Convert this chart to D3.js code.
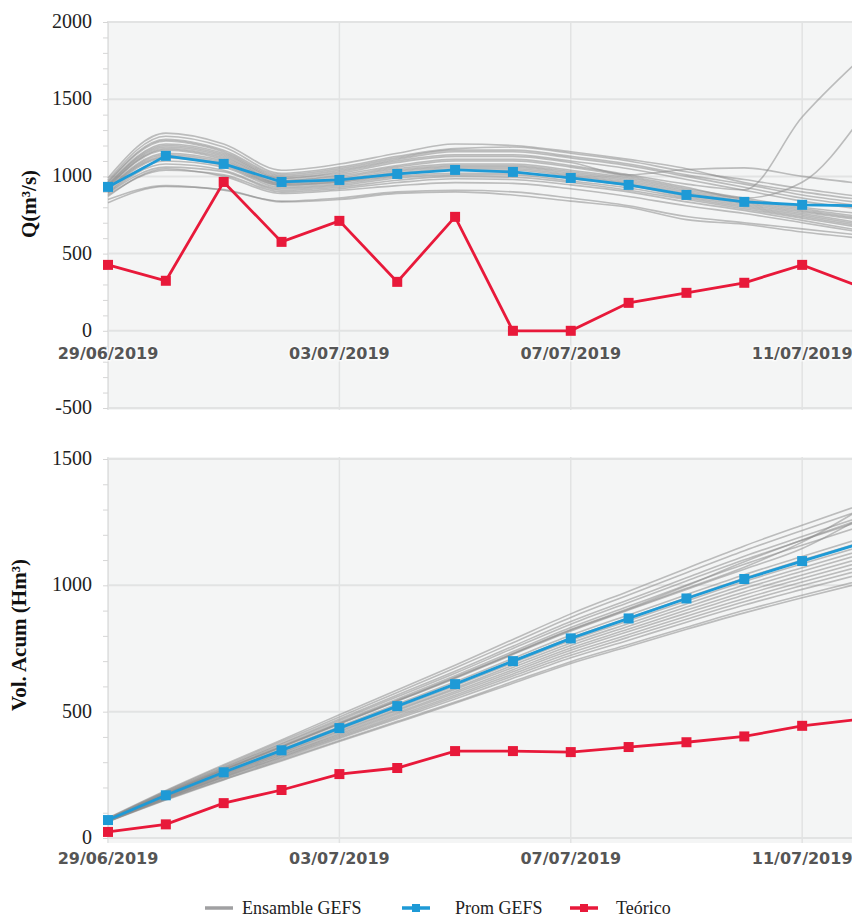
<!DOCTYPE html>
<html lang="en">
<head>
  <meta charset="UTF-8">
  <title>Caudal y volumen acumulado</title>
  <style>
    body { margin: 0; background: #fff; }
  </style>
</head>
<body>
  <script src="https://d3js.org/d3.v7.min.js"></script>
  <svg id="chart" width="852" height="918"></svg>
  <script>
    // daily dates, 29/06/2019 .. 12/07/2019
    const days = ["29/06/2019", "30/06/2019", "01/07/2019", "02/07/2019", "03/07/2019", "04/07/2019", "05/07/2019",
      "06/07/2019", "07/07/2019", "08/07/2019", "09/07/2019", "10/07/2019", "11/07/2019", "12/07/2019"];
    const dateTicks = ["29/06/2019", "03/07/2019", "07/07/2019", "11/07/2019"];

    // caudal Q (m3/s)
    const qTeorico = [427, 324, 964, 576, 712, 317, 738, 0, 0, 181, 246, 311, 427, 285];
    const qProm = [932, 1133, 1081, 964, 977, 1016, 1042, 1029, 990, 945, 880, 835, 816, 810];
    const qEnsemble = [
      [990, 1280, 1210, 1040, 1080, 1150, 1210, 1200, 1160, 1110, 1050, 960, 900, 850],
      [975, 1260, 1190, 1020, 1060, 1130, 1180, 1190, 1150, 1100, 1030, 980, 920, 870],
      [965, 1240, 1170, 1010, 1050, 1120, 1170, 1170, 1130, 1080, 1010, 950, 880, 830],
      [960, 1230, 1160, 1000, 1040, 1110, 1160, 1160, 1120, 1070, 1000, 930, 860, 810],
      [950, 1210, 1150, 990, 1030, 1100, 1140, 1140, 1100, 1050, 980, 910, 840, 790],
      [945, 1200, 1140, 985, 1020, 1090, 1130, 1130, 1090, 1010, 1045, 1055, 1000, 955],
      [940, 1190, 1130, 975, 1010, 1070, 1110, 1110, 1070, 1010, 950, 913, 1385, 1760],
      [930, 1180, 1120, 970, 1000, 1060, 1100, 1100, 1060, 1000, 930, 860, 962, 1370],
      [935, 1170, 1110, 960, 990, 1050, 1080, 1080, 1040, 990, 920, 860, 800, 760],
      [925, 1150, 1100, 955, 980, 1040, 1070, 1070, 1030, 980, 910, 850, 790, 740],
      [920, 1140, 1090, 950, 970, 1030, 1060, 1060, 1020, 970, 900, 840, 780, 730],
      [915, 1130, 1080, 945, 965, 1020, 1050, 1050, 1010, 960, 890, 830, 770, 720],
      [910, 1120, 1070, 940, 960, 1010, 1040, 1040, 1000, 950, 880, 820, 760, 700],
      [900, 1100, 1060, 930, 950, 1000, 1020, 1020, 985, 940, 870, 810, 750, 690],
      [895, 1080, 1040, 920, 940, 990, 1010, 1010, 970, 925, 860, 800, 740, 680],
      [890, 1060, 1030, 910, 930, 975, 1000, 995, 960, 910, 850, 790, 730, 670],
      [880, 1040, 1010, 900, 920, 960, 985, 980, 945, 900, 835, 780, 715, 650],
      [870, 1050, 1000, 890, 910, 940, 960, 955, 920, 870, 810, 760, 700, 640],
      [850, 940, 910, 840, 860, 900, 910, 900, 860, 810, 740, 700, 660, 620],
      [830, 935, 915, 835, 850, 890, 900, 880, 840, 800, 720, 690, 640, 600]
    ];

    // volumen acumulado (Hm3)
    const volTeorico = [24, 54, 138, 190, 253, 277, 344, 344, 340, 360, 379, 402, 444, 470];
    const volProm = [71, 169, 260, 347, 435, 522, 609, 700, 790, 869, 948, 1025, 1096, 1165];
    const volEnsemble = [
      [79, 188, 290, 388, 488, 586, 684, 786, 887, 977, 1067, 1156, 1238, 1318],
      [77, 185, 285, 382, 479, 576, 673, 773, 873, 962, 1050, 1137, 1217, 1296],
      [76, 182, 280, 375, 471, 566, 660, 759, 857, 943, 1030, 1115, 1193, 1270],
      [75, 180, 277, 371, 465, 559, 652, 750, 846, 932, 1017, 1101, 1178, 1254],
      [74, 177, 273, 365, 458, 550, 642, 738, 833, 917, 1001, 1083, 1159, 1233],
      [73, 176, 271, 362, 454, 545, 636, 731, 825, 908, 998, 1093, 1179, 1260],
      [72, 174, 269, 360, 452, 543, 634, 729, 823, 905, 988, 1072, 1171, 1300],
      [71, 173, 268, 359, 450, 541, 631, 726, 819, 902, 984, 1064, 1146, 1265],
      [71, 171, 263, 352, 441, 530, 618, 711, 802, 883, 963, 1042, 1114, 1185],
      [70, 169, 261, 347, 436, 523, 610, 702, 792, 871, 951, 1028, 1100, 1169],
      [69, 166, 256, 343, 430, 516, 602, 693, 782, 860, 938, 1015, 1085, 1153],
      [68, 164, 253, 338, 424, 509, 594, 684, 772, 849, 926, 1001, 1070, 1137],
      [68, 163, 251, 335, 420, 504, 588, 675, 762, 838, 914, 988, 1056, 1122],
      [67, 161, 248, 330, 414, 497, 580, 666, 752, 827, 902, 974, 1041, 1106],
      [67, 160, 245, 327, 409, 491, 573, 658, 743, 817, 890, 962, 1027, 1091],
      [66, 157, 242, 322, 404, 484, 565, 649, 733, 805, 878, 948, 1013, 1075],
      [66, 156, 240, 319, 399, 478, 558, 641, 723, 795, 866, 935, 999, 1060],
      [65, 154, 236, 314, 394, 472, 550, 632, 713, 783, 854, 922, 984, 1044],
      [65, 152, 232, 309, 386, 462, 538, 619, 698, 766, 834, 901, 961, 1019],
      [64, 150, 230, 305, 382, 457, 533, 612, 691, 758, 826, 891, 951, 1008]
    ];

    const blue = "#1e9ad6";
    const red = "#e8193a";
    const gray = "#8c8c8c";
    const serif = "'Liberation Serif', 'DejaVu Serif', serif";

    const parse = d3.timeParse("%d/%m/%Y");
    const dates = days.map(parse);

    const svg = d3.select("svg#chart");

    // shared x scale (last day falls just outside the picture)
    const x = d3.scaleTime()
      .domain([dates[0], dates[dates.length - 1]])
      .range([108, 860]);

    function drawPanel(p) {
      const y = d3.scaleLinear().domain(p.domain).range(p.range);
      const g = svg.append("g");

      // plot background
      g.append("rect")
        .attr("x", 107).attr("y", p.bgTop)
        .attr("width", 852 - 107).attr("height", p.bgBottom - p.bgTop)
        .attr("fill", "#f4f5f5");

      // horizontal grid
      g.append("g").selectAll("line")
        .data(d3.range(p.domain[0], p.domain[1] + 1, 500))
        .join("line")
        .attr("x1", 107).attr("x2", 852)
        .attr("y1", d => y(d)).attr("y2", d => y(d))
        .attr("stroke", "#e2e3e3").attr("stroke-width", 2);

      // vertical grid
      g.append("g").selectAll("line")
        .data(dateTicks.map(parse))
        .join("line")
        .attr("x1", d => x(d)).attr("x2", d => x(d))
        .attr("y1", p.bgTop).attr("y2", p.bgBottom)
        .attr("stroke", "#e2e3e3").attr("stroke-width", 1.5);

      // left axis with minor ticks
      const yAxis = d3.axisLeft(y)
        .tickValues(d3.range(p.domain[0], p.domain[1] + 1, 100))
        .tickSize(5)
        .tickFormat("");
      const ax = g.append("g").attr("transform", "translate(108,0)").call(yAxis);
      ax.select(".domain").attr("stroke", "#e0e0e0");
      ax.selectAll(".tick line").attr("stroke", "#d6d6d6");

      g.append("g").selectAll("text")
        .data(d3.range(p.domain[0], p.domain[1] + 1, 500))
        .join("text")
        .attr("x", 92).attr("y", d => y(d) + 6)
        .attr("text-anchor", "end")
        .attr("font-family", serif).attr("font-size", 20)
        .attr("fill", "#222")
        .text(d => d);

      // axis title
      g.append("text")
        .attr("transform", "translate(" + p.titleX + "," + p.titleY + ")rotate(-90)")
        .attr("text-anchor", "middle")
        .attr("font-family", serif).attr("font-weight", "bold").attr("font-size", 21)
        .attr("fill", "#111")
        .text(p.title);

      const clipId = "clip" + p.id;
      svg.append("clipPath").attr("id", clipId)
        .append("rect").attr("x", 100).attr("y", p.bgTop - 10)
        .attr("width", 760).attr("height", p.bgBottom - p.bgTop + 10);

      const plot = g.append("g").attr("clip-path", "url(#" + clipId + ")");

      // ensemble members
      const smooth = d3.line().x((d, i) => x(dates[i])).y(d => y(d)).curve(d3.curveMonotoneX);
      plot.append("g").selectAll("path")
        .data(p.ensemble)
        .join("path")
        .attr("d", smooth)
        .attr("fill", "none")
        .attr("stroke", gray)
        .attr("stroke-opacity", 0.55)
        .attr("stroke-width", 1.6);

      // date labels
      g.append("g").selectAll("text")
        .data(dateTicks)
        .join("text")
        .attr("x", d => x(parse(d)))
        .attr("y", p.dateY)
        .attr("text-anchor", "middle")
        .attr("font-family", "'DejaVu Sans', sans-serif")
        .attr("font-weight", "bold").attr("font-size", 16)
        .attr("fill", "#555")
        .attr("stroke", "#fff").attr("stroke-width", 3).attr("stroke-opacity", 0.6)
        .attr("paint-order", "stroke")
        .text(d => d);

      const straight = d3.line().x((d, i) => x(dates[i])).y(d => y(d));
      [[p.prom, blue], [p.teorico, red]].forEach(function (s) {
        plot.append("path")
          .attr("d", straight(s[0]))
          .attr("fill", "none")
          .attr("stroke", s[1])
          .attr("stroke-width", 2.8);
        plot.append("g").selectAll("rect")
          .data(s[0])
          .join("rect")
          .attr("x", (d, i) => x(dates[i]) - 5)
          .attr("y", d => y(d) - 5)
          .attr("width", 10).attr("height", 10)
          .attr("fill", s[1]);
      });
    }

    drawPanel({
      id: "q", domain: [-500, 2000], range: [408, 22], bgTop: 21, bgBottom: 410,
      title: "Q(m³/s)", titleX: 36, titleY: 204, dateY: 359,
      ensemble: qEnsemble, prom: qProm, teorico: qTeorico
    });

    drawPanel({
      id: "v", domain: [0, 1500], range: [838, 459], bgTop: 457, bgBottom: 843,
      title: "Vol. Acum (Hm³)", titleX: 26, titleY: 635, dateY: 864,
      ensemble: volEnsemble, prom: volProm, teorico: volTeorico
    });

    // legend
    const legend = svg.append("g").attr("font-family", serif).attr("font-size", 18).attr("fill", "#222");
    const legendItems = [
      { label: "Ensamble GEFS", color: "#a0a0a2", x: 205, marker: false },
      { label: "Prom GEFS", color: blue, x: 402, marker: true },
      { label: "Teórico", color: red, x: 570, marker: true }
    ];
    const textX = [242, 455, 616];
    legendItems.forEach(function (d, i) {
      legend.append("line")
        .attr("x1", d.x).attr("x2", d.x + 28)
        .attr("y1", 908).attr("y2", 908)
        .attr("stroke", d.color).attr("stroke-width", 3.5);
      if (d.marker) {
        legend.append("rect")
          .attr("x", d.x + 10).attr("y", 904)
          .attr("width", 8).attr("height", 8)
          .attr("fill", d.color);
      }
      legend.append("text")
        .attr("x", textX[i]).attr("y", 914)
        .text(d.label);
    });
  </script>
</body>
</html>
